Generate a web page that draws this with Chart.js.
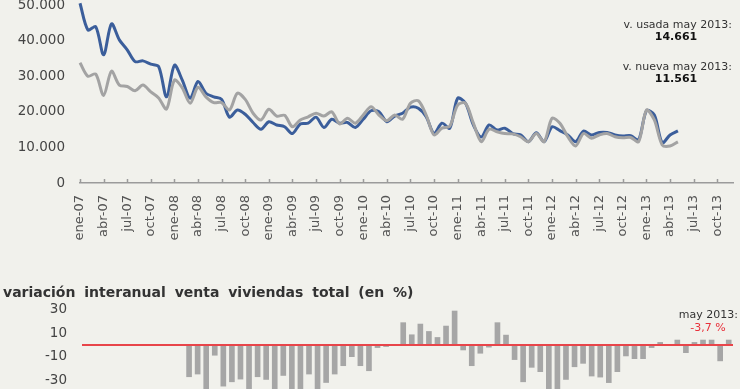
<!DOCTYPE html>
<html><head><meta charset="utf-8">
<script src="https://cdn.jsdelivr.net/npm/chart.js@4.4.1/dist/chart.umd.min.js"></script>
<style>
html,body{margin:0;padding:0;width:740px;height:389px;overflow:hidden;background:#f1f1ec;font-family:"DejaVu Sans",sans-serif;}
#wrap{position:relative;width:740px;height:389px;overflow:hidden;}
#c1{position:absolute;left:0;top:0;}
#c2{position:absolute;left:0;top:290px;}
.t{position:absolute;white-space:pre;line-height:13px;font-size:11px;color:#333;}
.b{font-weight:bold;color:#111;text-align:center;width:80px;}
#title{position:absolute;left:3px;top:284px;font-weight:bold;font-size:14px;line-height:16px;word-spacing:4px;color:#333;white-space:pre;}
</style></head><body>
<div id="wrap">
<canvas id="c1" width="740" height="250"></canvas>
<canvas id="c2" width="740" height="102"></canvas>
<div class="t" style="right:8px;top:18px">v. usada may 2013:</div>
<div class="t b" style="left:636px;top:30px">14.661</div>
<div class="t" style="right:8px;top:60px">v. nueva may 2013:</div>
<div class="t b" style="left:636px;top:72px">11.561</div>
<div id="title">variación interanual venta viviendas total (en %)</div>
<div class="t" style="right:2px;top:308px">may 2013:</div>
<div class="t" style="left:668px;width:80px;text-align:center;top:321px;color:#e8303a">-3,7 %</div>
</div>
<script>
// ---- data ----
const monthNames = ['ene','feb','mar','abr','may','jun','jul','ago','sep','oct','nov','dic'];
const years = ['07','08','09','10','11','12','13'];
// compraventa vivienda usada (ene-07 .. may-13)
const usada = [50500,43000,43900,36000,44700,40200,37400,34100,34300,33400,32700,24200,
  33100,28900,23800,28500,25200,24200,23500,18500,20500,19300,17000,15100,
  17200,16300,15800,13900,16600,16800,18500,15600,17900,16800,17000,15600,
  17900,20300,20000,17200,18800,19600,21300,21000,18600,13900,16800,15400,
  23800,22400,16300,12900,16300,14900,15400,13900,13500,11600,14100,11600,
  15800,14700,13500,11600,14600,13500,14200,14200,13500,13200,13300,12100,
  20300,19100,11300,13500,14661];
// compraventa vivienda nueva (ene-07 .. may-13)
const nueva = [33800,30000,30600,24600,31400,27500,27100,25900,27500,25600,23900,20800,
  28900,26700,22400,26900,24200,22600,22600,20500,25200,23500,19600,17700,
  20700,18800,19000,15800,17700,18600,19600,18800,20000,16600,18200,16800,
  19100,21400,19100,17500,19100,17900,22400,23100,19100,13500,15400,16000,
  21900,22400,16800,11600,15100,14400,13900,13800,13000,11600,13900,11600,
  18200,16800,13000,10400,13900,12600,13500,13900,13000,12700,12800,11600,
  20500,17700,10700,10400,11561];
// variación interanual venta viviendas total (%), feb-07 .. may-13
const variacion = [null,null,null,null,null,null,null,null,null,null,null,null,
  -27.3,-25,-42,-9,-35.3,-31.6,-29.3,-40,-27.3,-29.6,-44,-26.2,
  -40,-46,-25,-40,-32.2,-25,-17.9,-10.2,-17.9,-22.2,-2.5,-1.6,
  0,19.3,9,18.1,11.8,6.7,16.4,29.2,-4.5,-17.9,-7.3,-2.1,
  19.3,8.7,-12.7,-31.6,-19.3,-23,-40,-42,-29.6,-18.8,-15.9,-26.7,
  -27.6,-32.3,-23,-9.6,-11.9,-11.9,-2.5,2.5,0,4.5,-6.8,2.5,
  4.5,4.5,-13.8,4.5];
const yTicksTop = [0,10000,20000,30000,40000,50000];
const yTicksVar = [30,10,0,-10,-30];

// ---- labels ----
const monthLabels = [];
years.forEach(y => monthNames.forEach(m => monthLabels.push(m + '-' + y)));
const varLabels = monthLabels.slice(1, 77);

const fmt = v => String(v).replace(/\B(?=(\d{3})+(?!\d))/g, '.');
Chart.defaults.font.family = '"DejaVu Sans", sans-serif';

const tickMarks = {
  id: 'tickMarks',
  afterDraw(chart) {
    const xs = chart.scales.x, ctx = chart.ctx;
    ctx.save();
    ctx.strokeStyle = '#9b9b9b'; ctx.lineWidth = 1.5;
    xs.ticks.forEach((t, i) => {
      if (t.label === null || t.label === undefined || t.label === '') return;
      const x = Math.round(xs.getPixelForTick(i)) + 0.5;
      ctx.beginPath(); ctx.moveTo(x, xs.top); ctx.lineTo(x, xs.top - 4); ctx.stroke();
    });
    ctx.restore();
  }
};

new Chart(document.getElementById('c1'), {
  type: 'line',
  data: { labels: monthLabels, datasets: [
    { label: 'v. nueva', data: nueva, borderColor: '#a3a3a3', borderWidth: 3, pointRadius: 0, tension: 0.3, clip: false },
    { label: 'v. usada', data: usada, borderColor: '#3b5e9b', borderWidth: 3, pointRadius: 0, tension: 0.3, clip: false }
  ]},
  options: {
    responsive: false, animation: false,
    layout: { padding: { top: 5, right: 7, left: 0, bottom: 0 } },
    plugins: { legend: { display: false }, tooltip: { enabled: false } },
    scales: {
      x: {
        grid: { display: false, drawTicks: false },
        border: { display: true, color: '#9b9b9b', width: 1.5 },
        ticks: { autoSkip: false, maxRotation: 90, minRotation: 90, padding: 12, color: '#555', font: { size: 13 },
          callback(v, i) { return i % 3 === 0 ? this.getLabelForValue(v) : null; } },
        afterFit(s) { s.height = 67; s.paddingLeft = 0; s.paddingRight = 0; }
      },
      y: {
        min: 0, max: 50000,
        grid: { display: false, drawTicks: false }, border: { display: false },
        afterBuildTicks(s) { s.ticks = yTicksTop.map(v => ({ value: v })); },
        ticks: { padding: 15, color: '#444', font: { size: 13.5 }, callback: v => fmt(v) },
        afterFit(s) { s.width = 80; s.paddingTop = 0; s.paddingBottom = 0; }
      }
    }
  },
  plugins: [tickMarks]
});

new Chart(document.getElementById('c2'), {
  type: 'bar',
  data: { labels: varLabels, datasets: [
    { label: 'variación', data: variacion, backgroundColor: '#a6a6a6', barPercentage: 0.66, categoryPercentage: 1 }
  ]},
  options: {
    responsive: false, animation: false,
    layout: { padding: { top: 8, right: 7, left: 0, bottom: 0 } },
    plugins: { legend: { display: false }, tooltip: { enabled: false } },
    scales: {
      x: { display: false },
      y: {
        min: -40, max: 40, border: { display: false },
        grid: { drawTicks: false,
          color: c => (c.tick && c.tick.value === 0) ? '#e8454a' : 'rgba(0,0,0,0)',
          lineWidth: c => (c.tick && c.tick.value === 0) ? 2 : 0 },
        afterBuildTicks(s) { s.ticks = yTicksVar.map(v => ({ value: v })); },
        ticks: { padding: 15, color: '#444', font: { size: 13.5 }, callback: v => v === 0 ? '' : String(v) },
        afterFit(s) { s.width = 82; s.paddingTop = 0; s.paddingBottom = 0; }
      }
    }
  }
});
</script>
</body></html>
